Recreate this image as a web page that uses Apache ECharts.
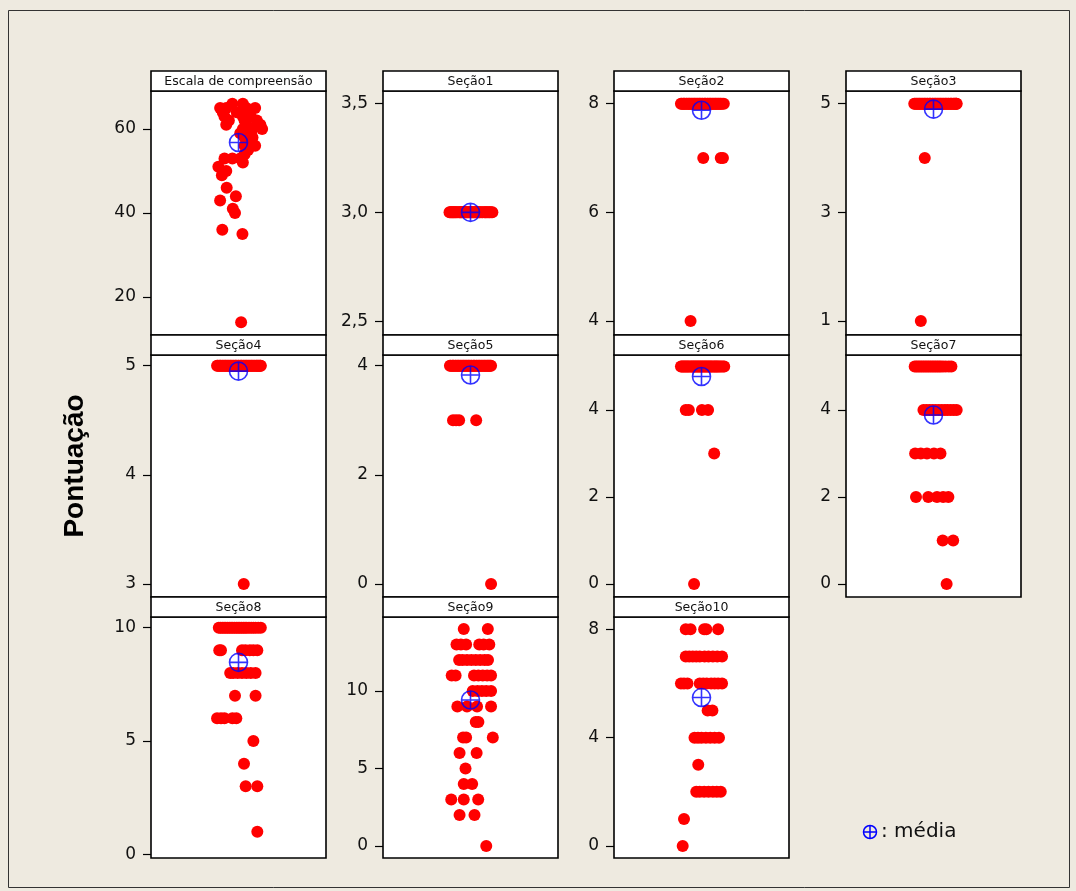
<!DOCTYPE html>
<html><head><meta charset="utf-8">
<script src="https://cdn.jsdelivr.net/npm/echarts@6/dist/echarts.min.js"></script>
<style>html,body{margin:0;padding:0;background:#EEEAE0}#c{width:1076px;height:891px}</style>
</head><body><div id="c"></div><script>
// ---------- DATA (score, jitter positions) ----------
const panelTitles = ['Escala de compreensão','Seção1','Seção2','Seção3','Seção4','Seção5','Seção6','Seção7','Seção8','Seção9','Seção10'];

const escalaRows = [
  [66, [-0.7, 0.5]],
  [65, [-2.1, -1.4, 0.9, 1.9]],
  [64, [-1.8, -0.2, 1.1]],
  [63, [-1.6, 0.5, 1.4]],
  [62, [-1.1, 0.7, 2.1]],
  [61, [-1.4, 0.9, 2.5]],
  [60, [0.5, 1.6, 2.7]],
  [59, [0.2, 1.4]],
  [58, [0.7, 1.6]],
  [57, [1.1]],
  [56, [0.7, 1.9]],
  [55, [1.1]],
  [54, [0.7]],
  [53, [-1.6, -0.7, 0.2]],
  [52, [0.5]],
  [51, [-2.3]],
  [50, [-1.4]],
  [49, [-1.9]],
  [46, [-1.35]],
  [44, [-0.3]],
  [43, [-2.1]],
  [41, [-0.65]],
  [40, [-0.4]],
  [36, [-1.85]],
  [35, [0.45]],
  [14, [0.3]]
];
const secao1Rows = [
  [3, [-2.4,-2.3,-2.2,-2.1,-2.0,-1.9,-1.8,-1.7,-1.6,-1.45,-1.3,-1.2,-1.1,-1.0,-0.9,-0.8,-0.7,-0.6,-0.5,-0.4,-0.3,-0.2,-0.1,0,0.1,0.2,0.3,0.4,0.5,0.6,0.7,0.8,0.9,1.0,1.1,1.3,1.4,1.6,1.7,1.8,1.95,2.1,2.2,2.35,2.5]]
];
const secao2Rows = [
  [8, [-2.35,-2.25,-2.1,-2.0,-1.9,-1.75,-1.65,-1.5,-1.4,-1.3,-1.15,-1.05,-0.9,-0.8,-0.7,-0.55,-0.45,-0.3,-0.2,-0.1,0.05,0.15,0.3,0.4,0.5,0.65,0.75,0.9,1.0,1.1,1.25,1.35,1.5,1.6,1.7,1.85,1.95,2.1,2.2,2.35,2.55]],
  [7, [0.2, 2.2, 2.45]],
  [4, [-1.25]]
];
const secao3Rows = [
  [5, [-2.2,-2.1,-1.95,-1.85,-1.7,-1.6,-1.5,-1.35,-1.25,-1.1,-1.0,-0.9,-0.75,-0.65,-0.5,-0.4,-0.3,-0.15,-0.05,0.1,0.2,0.3,0.45,0.55,0.7,0.8,0.9,1.05,1.15,1.3,1.4,1.5,1.65,1.75,1.9,2.0,2.1,2.25,2.35,2.45,2.55,2.6,2.65]],
  [4, [-1.0]],
  [1, [-1.45]]
];
const secao4Rows = [
  [5, [-2.45,-2.35,-2.2,-2.1,-2.0,-1.85,-1.75,-1.6,-1.5,-1.4,-1.25,-1.15,-1.0,-0.9,-0.8,-0.65,-0.55,-0.4,-0.3,-0.2,-0.05,0.05,0.2,0.3,0.4,0.55,0.65,0.8,0.9,1.0,1.15,1.25,1.4,1.5,1.6,1.75,1.85,2.0,2.1,2.2,2.3,2.4,2.5,2.55]],
  [3, [0.6]]
];
const secao5Rows = [
  [4, [-2.35,-2.25,-2.1,-2.0,-1.9,-1.75,-1.65,-1.5,-1.4,-1.3,-1.15,-1.05,-0.9,-0.8,-0.7,-0.55,-0.45,-0.3,-0.2,-0.1,0.05,0.15,0.3,0.4,0.5,0.65,0.75,0.9,1.0,1.1,1.25,1.35,1.5,1.6,1.7,1.85,1.95,2.05,2.15,2.25,2.35]],
  [3, [-2.0, -1.65, -1.3, 0.65]],
  [0, [2.35]]
];
const secao6Rows = [
  [5, [-2.35,-2.25,-2.1,-2.0,-1.85,-1.75,-1.6,-1.5,-1.35,-1.2,-1.1,-0.95,-0.85,-0.7,-0.6,-0.45,-0.35,-0.2,-0.1,0.05,0.15,0.3,0.4,0.55,0.65,0.8,0.9,1.05,1.15,1.3,1.45,1.55,1.7,1.8,1.95,2.1,2.25,2.45,2.6]],
  [4, [-1.8, -1.45, 0.05, 0.75]],
  [3, [1.45]],
  [0, [-0.85]]
];
const secao7Rows = [
  [5, [-2.15,-1.95,-1.75,-1.55,-1.35,-1.15,-0.95,-0.75,-0.55,-0.35,-0.15,0.05,0.25,0.45,0.65,0.85,1.1,1.4,1.75,2.05]],
  [4, [-1.15,-0.8,-0.45,-0.1,0.25,0.6,0.95,1.3,1.6,1.95,2.3,2.65]],
  [3, [-2.1,-1.45,-0.75,0.05,0.8]],
  [2, [-2.0,-0.6,0.4,1.1,1.7]],
  [1, [1.05, 2.25]],
  [0, [1.5]]
];
const secao8Rows = [
  [10, [-2.25,-2.05,-1.85,-1.65,-1.45,-1.25,-1.05,-0.85,-0.65,-0.45,-0.25,-0.05,0.15,0.35,0.55,0.75,0.95,1.2,1.45,1.7,1.95,2.25,2.55]],
  [9, [-2.2,-2.0,0.4,0.8,1.3,1.7,2.15]],
  [8, [-0.95,-0.6,-0.1,0.4,0.9,1.4,1.95]],
  [7, [-0.4, 1.95]],
  [6, [-2.45,-2.0,-1.6,-0.7,-0.25]],
  [5, [1.7]],
  [4, [0.63]],
  [3, [0.82, 2.15]],
  [1, [2.15]]
];
const secao9Rows = [
  [14, [-0.77, 1.98]],
  [13, [-1.6,-1.1,-0.5,1.0,1.5,2.15]],
  [12, [-1.3,-0.9,-0.4,0.1,0.6,1.1,1.6,2.0]],
  [11, [-2.15,-1.7,0.4,0.9,1.4,1.9,2.35]],
  [10, [0.25,0.8,1.3,1.8,2.35]],
  [9, [-1.5,-0.4,0.75,2.35]],
  [8, [0.6, 0.9]],
  [7, [-0.85,-0.5,2.55]],
  [6, [-1.25, 0.7]],
  [5, [-0.57]],
  [4, [-0.77, 0.19]],
  [3, [-2.2,-0.77,0.88]],
  [2, [-1.25, 0.46]],
  [0, [1.8]]
];
const secao10Rows = [
  [8, [-1.8,-1.25,0.3,0.55,1.9]],
  [7, [-1.8,-1.4,-1.0,-0.6,-0.2,0.35,0.8,1.3,1.8,2.35]],
  [6, [-2.35,-2.0,-1.6,-0.2,0.2,0.6,1.1,1.5,1.9,2.35]],
  [5, [0.7, 1.25]],
  [4, [-0.8,-0.4,0,0.5,1.0,1.5,2.0]],
  [3, [-0.37]],
  [2, [-0.6,-0.2,0.3,0.8,1.3,1.75,2.2]],
  [1, [-2.0]],
  [0, [-2.15]]
];
const panelRows = [escalaRows, secao1Rows, secao2Rows, secao3Rows, secao4Rows, secao5Rows, secao6Rows, secao7Rows, secao8Rows, secao9Rows, secao10Rows];

// mean (média) of each panel
const panelMeans = [56.8, 3.0, 7.88, 4.90, 4.95, 3.83, 4.77, 3.885, 8.47, 9.42, 5.48];

// tick labels of each panel
const panelTicks = [[20,40,60],[2.5,3.0,3.5],[4,6,8],[1,3,5],[3,4,5],[0,2,4],[0,2,4],[0,2,4],[0,5,10],[0,5,10],[0,4,8]];
// axis ranges
const panelYMin = [10.95, 2.436, 3.742, 0.742, 2.881, -0.238, -0.299, -0.299, -0.163, -0.774, -0.443];
const panelYMax = [69.05, 3.558, 8.234, 5.234, 5.098, 4.196, 5.264, 5.264, 10.472, 14.774, 8.454];

// ---------- LAYOUT ----------
const colLeft = [151, 383, 614, 846];
const panelW = 175;
const headTop = [71, 335, 597];
const headH = 20;
const plotBottom = [335, 597, 858];

const chart = echarts.init(document.getElementById('c'));
const grids = [], xAxes = [], yAxes = [], series = [], graphics = [];
const meanPath = 'path://M0,10 A10,10 0 1,1 20,10 A10,10 0 1,1 0,10 Z M10,0 L10,20 M0,10 L20,10';

panelTitles.forEach((t, i) => {
  const r = Math.floor(i / 4), c = i % 4;
  const top = headTop[r] + headH;
  const h = plotBottom[r] - top;
  grids.push({left: colLeft[c], top: top, width: panelW, height: h, show: true,
    backgroundColor: '#fff', borderColor: '#000', borderWidth: 1.6, containLabel: false, outerBoundsMode: 'none'});
  xAxes.push({gridIndex: i, type: 'value', min: -10, max: 10, show: false});
  const dec = i === 1;
  yAxes.push({gridIndex: i, type: 'value', min: panelYMin[i], max: panelYMax[i], position: 'left',
    axisLine: {show: false, onZero: false}, splitLine: {show: false},
    axisTick: {show: true, customValues: panelTicks[i], length: 8, lineStyle: {color: '#000', width: 1.2}},
    axisLabel: {customValues: panelTicks[i], fontSize: 17, color: '#111', margin: 15, fontFamily: 'DejaVu Sans',
      formatter: v => dec ? v.toFixed(1).replace('.', ',') : String(v)}
  });
  const pts = [];
  panelRows[i].forEach(([score, js]) => js.forEach(j => pts.push([j, score])));
  series.push({type: 'scatter', xAxisIndex: i, yAxisIndex: i, data: pts, symbolSize: 12,
    itemStyle: {color: '#FF0000', opacity: 1}, silent: true, z: 2});
  series.push({type: 'scatter', xAxisIndex: i, yAxisIndex: i, data: [[0, panelMeans[i]]], symbol: meanPath, symbolSize: 18,
    itemStyle: {color: 'rgba(0,0,0,0)', borderColor: '#0000FF', borderWidth: 1.6}, silent: true, z: 3});
  graphics.push({type: 'rect', shape: {x: colLeft[c], y: headTop[r], width: panelW, height: headH},
    style: {fill: '#fff', stroke: '#000', lineWidth: 1.6}, z: 10});
  graphics.push({type: 'text', x: colLeft[c] + panelW / 2, y: headTop[r] + headH / 2 + 1,
    style: {text: t, font: '12.5px "DejaVu Sans"', fill: '#111', align: 'center', verticalAlign: 'middle'}, z: 11});
});

// outer frame
graphics.push({type: 'rect', shape: {x: 8.5, y: 10.5, width: 1061, height: 877},
  style: {fill: 'none', stroke: '#333', lineWidth: 1}, z: 0});
// y title
graphics.push({type: 'text', x: 75, y: 466, rotation: Math.PI / 2,
  style: {text: 'Pontuação', font: 'bold 28px "Liberation Sans"', fill: '#000', align: 'center', verticalAlign: 'middle'}, z: 11});
// legend
graphics.push({type: 'circle', shape: {cx: 870, cy: 832, r: 6.5}, style: {fill: 'none', stroke: '#0000FF', lineWidth: 1.5}, z: 11});
graphics.push({type: 'line', shape: {x1: 863.5, y1: 832, x2: 876.5, y2: 832}, style: {stroke: '#0000FF', lineWidth: 1.5}, z: 11});
graphics.push({type: 'line', shape: {x1: 870, y1: 825.5, x2: 870, y2: 838.5}, style: {stroke: '#0000FF', lineWidth: 1.5}, z: 11});
graphics.push({type: 'text', x: 881, y: 832, style: {text: ': média', font: '20px "DejaVu Sans"', fill: '#111', align: 'left', verticalAlign: 'middle'}, z: 11});

chart.setOption({
  backgroundColor: '#EEEAE0',
  animation: false,
  grid: grids, xAxis: xAxes, yAxis: yAxes, series: series, graphic: graphics
});
</script></body></html>
